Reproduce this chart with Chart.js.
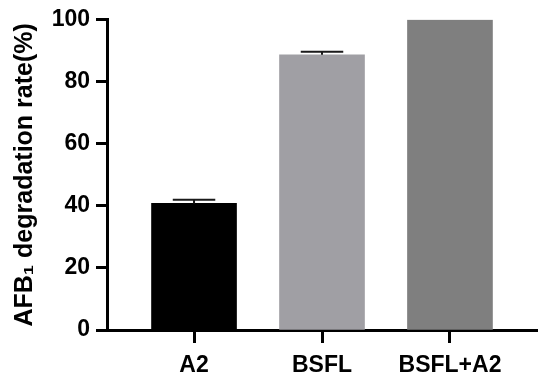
<!DOCTYPE html>
<html>
<head>
<meta charset="utf-8">
<script src="https://cdn.jsdelivr.net/npm/chart.js@4"></script>
<style>
  html, body { margin: 0; padding: 0; background: #fff; }
  #wrap { width: 550px; height: 380px; }
</style>
</head>
<body>
<div id="wrap"><canvas id="chart" width="550" height="380"></canvas></div>
<script>
// groups on the x axis
const groups = ['A2', 'BSFL', 'BSFL+A2'];
// mean degradation rate (%)
const rates = [40.8, 88.7, 100];
// standard error shown above each bar
const errors = [1.2, 1.0, 0];
const barColors = ['#000000', '#a09fa4', '#7f7f7f'];
const yTicks = [0, 20, 40, 60, 80, 100];

const FONT = 'Arial, "Liberation Sans", Helvetica, sans-serif';

// draws the upward error bars with a cap
const errorBars = {
    id: 'errorBars',
    afterDatasetsDraw(chart) {
        const ctx = chart.ctx;
        const yScale = chart.scales.y;
        const meta = chart.getDatasetMeta(0);
        ctx.save();
        ctx.strokeStyle = '#1a1a1a';
        ctx.lineWidth = 2;
        meta.data.forEach((bar, i) => {
            if (!errors[i]) return;
            const top = yScale.getPixelForValue(rates[i] + errors[i]);
            const base = yScale.getPixelForValue(rates[i]);
            const half = bar.width * 0.25;
            ctx.beginPath();
            ctx.moveTo(bar.x, base);
            ctx.lineTo(bar.x, top);
            ctx.moveTo(bar.x - half, top);
            ctx.lineTo(bar.x + half, top);
            ctx.stroke();
        });
        ctx.restore();
    }
};

new Chart(document.getElementById('chart'), {
    type: 'bar',
    data: {
        datasets: [{
            data: groups.map((g, i) => ({ x: i, y: rates[i] })),
            backgroundColor: barColors,
            borderWidth: 0,
            barThickness: 85
        }]
    },
    options: {
        responsive: false,
        animation: false,
        events: [],
        layout: { padding: { top: 18, right: 13, left: 0, bottom: 0 } },
        plugins: {
            legend: { display: false },
            tooltip: { enabled: false }
        },
        scales: {
            x: {
                type: 'linear',
                min: -0.68,
                max: 2.68,
                offset: false,
                afterFit(scale) { scale.height = 50; },
                afterBuildTicks(scale) {
                    scale.ticks = groups.map((g, i) => ({ value: i }));
                },
                border: { display: true, color: '#000', width: 3 },
                grid: {
                    display: true,
                    offset: false,
                    drawOnChartArea: false,
                    drawTicks: true,
                    tickLength: 13,
                    tickWidth: 3,
                    tickColor: '#000'
                },
                ticks: {
                    callback: (v) => groups[v],
                    color: '#000',
                    padding: 9,
                    maxRotation: 0,
                    font: { family: FONT, size: 23, weight: 'bold' }
                }
            },
            y: {
                min: 0,
                max: 100,
                afterFit(scale) { scale.width = 107; },
                afterBuildTicks(scale) {
                    scale.ticks = yTicks.map(v => ({ value: v }));
                },
                border: { display: true, color: '#000', width: 3 },
                grid: {
                    display: true,
                    drawOnChartArea: false,
                    drawTicks: true,
                    tickLength: 11,
                    tickWidth: 3,
                    tickColor: '#000'
                },
                ticks: {
                    color: '#000',
                    padding: 6,
                    font: { family: FONT, size: 23, weight: 'bold' }
                },
                title: {
                    display: true,
                    text: 'AFB\u2081 degradation rate(%)',
                    color: '#000',
                    padding: { top: 10, bottom: 0 },
                    font: { family: FONT, size: 25, weight: 'bold' }
                }
            }
        }
    },
    plugins: [errorBars]
});
</script>
</body>
</html>
